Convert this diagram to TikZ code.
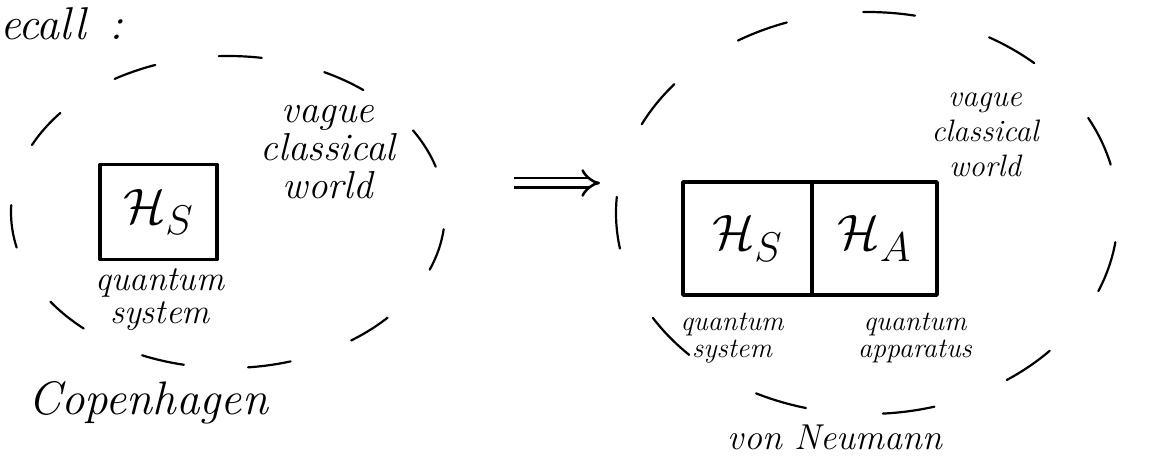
\documentclass[tikz,border=0pt]{standalone}
\usetikzlibrary{arrows.meta}
\begin{document}
\begin{tikzpicture}[x=1pt,y=-1pt,
  ink/.style={line width=3.5pt, line cap=round, line join=round},
  halo/.style={line width=2.2pt, line cap=round},
  hsym/.style={font=\Huge, scale=2},
  title/.style={font=\fontsize{47}{50}\selectfont\itshape},
  lblA/.style={font=\fontsize{39}{38}\selectfont\itshape, align=center},
  lblB/.style={font=\fontsize{35}{33}\selectfont\itshape, align=center},
  lblC/.style={font=\fontsize{28}{27}\selectfont\itshape, align=center},
  lblD/.style={font=\fontsize{31}{35}\selectfont\itshape, align=center}]
\useasboundingbox (0,0) rectangle (1151,465);

% header
\node[anchor=base west, inner sep=0pt, font=\fontsize{46}{48}\selectfont\itshape] (rec) at (0,40) {ecall\,\,\,:};

% Copenhagen
\draw[halo, dash pattern=on 43pt off 64.3pt, dash phase=90pt] (228,212) ellipse [x radius=217, y radius=156];
\node[draw, ink, minimum width=117, minimum height=95, inner sep=0pt] (hsbox) at (158.5,212) {};
\node[hsym] (hs) at (hsbox) {$\mathcal{H}_S$};
\node[lblB] (qs1) at (160,300) {quantum\\system};
\node[lblA] (vg1) at (328,152) {vague\\classical\\world};
\node[title] (cop) at (148,403) {Copenhagen};

% arrow
\coordinate (a1) at (514,183);
\coordinate (a2) at (600,183);
\draw[line width=2.5pt, double distance=7pt, -{Implies}] (a1) -- (a2);

% von Neumann
\draw[halo, dash pattern=on 52pt off 77.4pt, dash phase=100pt] (867,213) ellipse [x radius=251, y radius=201];
\node[draw, ink, minimum width=129, minimum height=113, inner sep=0pt] (sbox) at (747.5,238.5) {};
\node[draw, ink, minimum width=125, minimum height=113, inner sep=0pt] (abox) at (874.5,238.5) {};
\node[hsym] (hs2) at (sbox) {$\mathcal{H}_S$};
\node[hsym] (ha2) at (abox) {$\mathcal{H}_A$};
\node[lblC] (qs2) at (732,338) {quantum\\system};
\node[lblC] (qa2) at (915,338) {quantum\\apparatus};
\node[lblD] (vg2) at (985,135) {vague\\classical\\world};
\node[title, font=\fontsize{36}{40}\selectfont\itshape] (vn) at (835,437) {von Neumann};
\end{tikzpicture}
\end{document}
